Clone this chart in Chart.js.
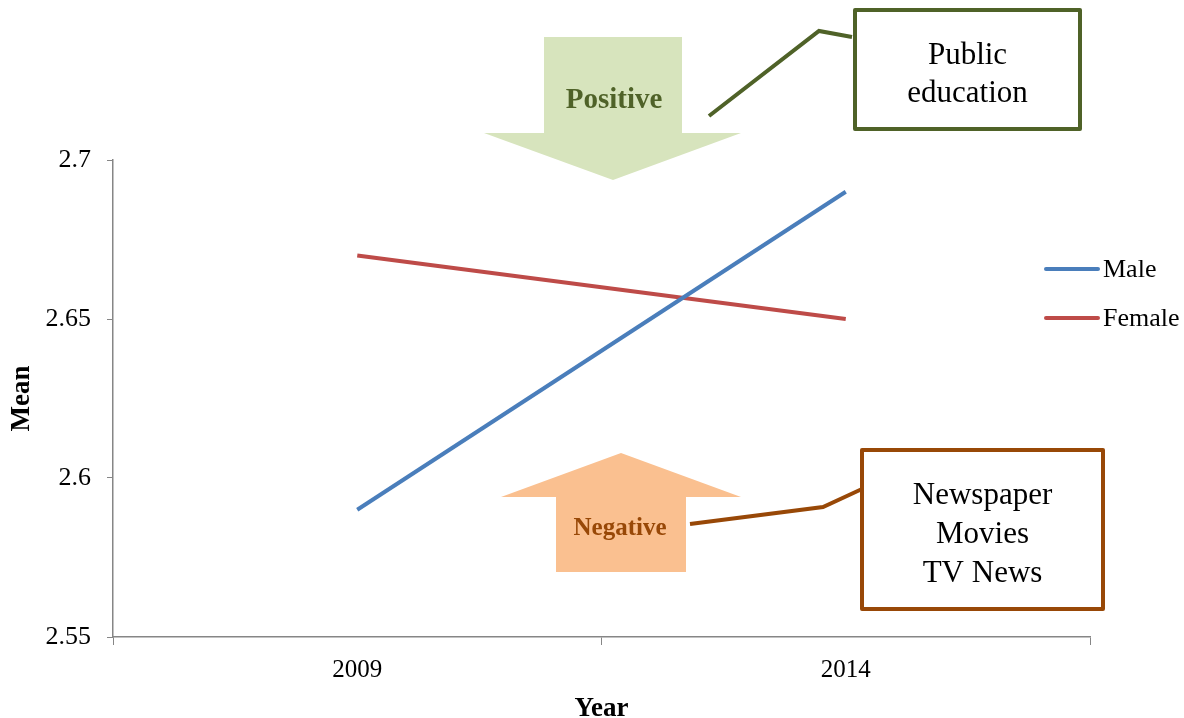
<!DOCTYPE html>
<html>
<head>
<meta charset="utf-8">
<script src="https://cdn.jsdelivr.net/npm/chart.js@4"></script>
<style>
  html, body { margin: 0; padding: 0; background: #fff; }
  #wrap { width: 1184px; height: 718px; position: relative; }
</style>
</head>
<body>
<div id="wrap"><canvas id="meanChart"></canvas></div>
<script>
// data
const years = ['2009', '2014'];
const maleMeans = [2.59, 2.69];
const femaleMeans = [2.67, 2.65];
const seriesNames = ['Male', 'Female'];
const seriesColors = ['#4a7ebb', '#be4b48'];

const serif = "'Liberation Serif', 'Times New Roman', serif";
const axisGray = '#868686';

// arrow shape: rectangle shaft + triangle head
function drawArrow(ctx, shaft, head, fill) {
  ctx.fillStyle = fill;
  ctx.fillRect(shaft.x0, shaft.y0, shaft.x1 - shaft.x0, shaft.y1 - shaft.y0);
  ctx.beginPath();
  ctx.moveTo(head.x0, head.base);
  ctx.lineTo(head.x1, head.base);
  ctx.lineTo(head.tipX, head.tipY);
  ctx.closePath();
  ctx.fill();
}

function drawNoteBox(ctx, box, lines, color, leader) {
  ctx.save();
  ctx.strokeStyle = color;
  ctx.lineWidth = 4;
  ctx.lineJoin = 'miter';
  ctx.beginPath();
  ctx.moveTo(leader[0][0], leader[0][1]);
  for (let i = 1; i < leader.length; i++) ctx.lineTo(leader[i][0], leader[i][1]);
  ctx.stroke();
  ctx.fillStyle = '#fff';
  ctx.fillRect(box.x, box.y, box.w, box.h);
  ctx.lineJoin = 'round';
  ctx.strokeRect(box.x, box.y, box.w, box.h);
  ctx.fillStyle = '#000';
  ctx.font = '31px ' + serif;
  ctx.textAlign = 'center';
  ctx.textBaseline = 'middle';
  lines.forEach((t, i) => ctx.fillText(t, box.x + box.w / 2, box.ty + i * box.lh));
  ctx.restore();
}

const notesPlugin = {
  id: 'notes',
  afterDraw(chart) {
    const ctx = chart.ctx;
    ctx.save();
    // positive arrow pointing down
    drawArrow(ctx, {x0: 544, y0: 37, x1: 682, y1: 134},
      {x0: 484, x1: 741, base: 133, tipX: 613, tipY: 180}, '#d7e4bd');
    ctx.font = 'bold 29px ' + serif;
    ctx.textAlign = 'center';
    ctx.textBaseline = 'middle';
    ctx.fillStyle = '#4f6228';
    ctx.fillText('Positive', 614, 101);

    // negative arrow pointing up
    drawArrow(ctx, {x0: 556, y0: 496, x1: 686, y1: 572},
      {x0: 501, x1: 741, base: 497, tipX: 621, tipY: 453}, '#fac090');
    ctx.font = 'bold 25px ' + serif;
    ctx.fillStyle = '#984807';
    ctx.fillText('Negative', 620, 529);
    ctx.restore();

    drawNoteBox(ctx, {x: 855, y: 10, w: 225, h: 119, ty: 56, lh: 38},
      ['Public', 'education'], '#4f6228', [[709, 116], [819, 31], [852, 37]]);
    drawNoteBox(ctx, {x: 862, y: 450, w: 241, h: 159, ty: 496, lh: 39},
      ['Newspaper', 'Movies', 'TV News'], '#984807', [[690, 524], [823, 507], [862, 489]]);

    // legend on the right
    ctx.save();
    ctx.font = '26px ' + serif;
    ctx.textAlign = 'left';
    ctx.textBaseline = 'middle';
    ctx.lineWidth = 4;
    ctx.lineCap = 'round';
    chart.data.datasets.forEach((ds, i) => {
      const y = 269 + i * 49;
      ctx.strokeStyle = ds.borderColor;
      ctx.beginPath();
      ctx.moveTo(1046, y);
      ctx.lineTo(1098, y);
      ctx.stroke();
      ctx.fillStyle = '#000';
      ctx.fillText(ds.label, 1103, y + 1);
    });
    ctx.restore();
  }
};

new Chart(document.getElementById('meanChart'), {
  type: 'line',
  data: {
    labels: years,
    datasets: [
      { label: seriesNames[0], data: maleMeans, borderColor: seriesColors[0] },
      { label: seriesNames[1], data: femaleMeans, borderColor: seriesColors[1] }
    ]
  },
  options: {
    responsive: true,
    maintainAspectRatio: false,
    animation: false,
    layout: { padding: { top: 160, right: 94, left: 0, bottom: 0 } },
    elements: {
      line: { borderWidth: 4, tension: 0, fill: false },
      point: { radius: 0, hoverRadius: 0 }
    },
    plugins: { legend: { display: false }, tooltip: { enabled: false } },
    scales: {
      x: {
        offset: true,
        grid: { offset: true, drawOnChartArea: false, tickLength: 8, tickColor: axisGray },
        border: { color: axisGray, width: 1.5 },
        ticks: { color: '#000', padding: 10, font: { family: serif, size: 25 } },
        title: { display: true, text: 'Year', color: '#000', padding: 0,
                 font: { family: serif, size: 27, weight: 'bold', lineHeight: 0.7 } },
        afterFit(scale) { scale.height = 81; }
      },
      y: {
        min: 2.55,
        max: 2.7,
        ticks: { stepSize: 0.05, color: '#000', padding: 16,
                 font: { family: serif, size: 26 },
                 callback: v => +v.toFixed(2) },
        grid: { drawOnChartArea: false, tickLength: 6, tickColor: axisGray },
        border: { color: axisGray, width: 1.5 },
        title: { display: true, text: 'Mean', color: '#000', padding: { top: 9, bottom: 0 },
                 font: { family: serif, size: 27, weight: 'bold', lineHeight: 1 } },
        afterFit(scale) { scale.width = 113; }
      }
    }
  },
  plugins: [notesPlugin]
});
</script>
</body>
</html>
